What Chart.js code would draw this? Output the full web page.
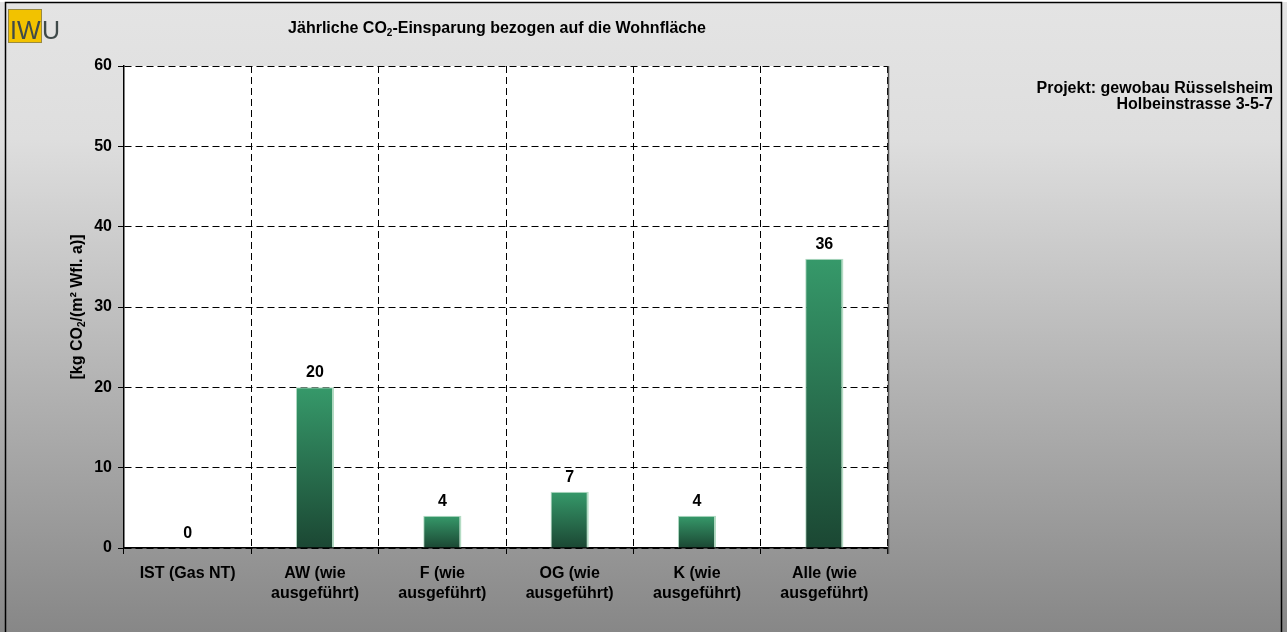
<!DOCTYPE html>
<html>
<head>
<meta charset="utf-8">
<script src="https://cdn.jsdelivr.net/npm/chart.js@4/dist/chart.umd.min.js"></script>
<style>
  html, body { margin: 0; padding: 0; background: #fff; }
  #wrap { width: 1287px; height: 632px; }
</style>
</head>
<body>
<div id="wrap"><canvas id="chart" width="1287" height="632"></canvas></div>
<script>
const categories = [
  ["IST (Gas NT)"],
  ["AW (wie", "ausgeführt)"],
  ["F (wie", "ausgeführt)"],
  ["OG (wie", "ausgeführt)"],
  ["K (wie", "ausgeführt)"],
  ["Alle (wie", "ausgeführt)"]
];
const einsparung = [0, 20, 4, 7, 4, 36];
const yTicks = [0, 10, 20, 30, 40, 50, 60];

const titleParts = ["Jährliche CO", "2", "-Einsparung bezogen auf die Wohnfläche"];
const yTitleParts = ["[kg CO", "2", "/(m² Wfl. a)]"];
const projektLines = ["Projekt: gewobau Rüsselsheim", "Holbeinstrasse 3-5-7"];

const FONT = "'Liberation Sans', Arial, sans-serif";

// draws text with a subscript middle part, centered at x
function drawSubText(ctx, parts, x, y, size) {
  const big = "bold " + size + "px " + FONT;
  const small = "bold " + Math.round(size * 0.65) + "px " + FONT;
  ctx.font = big;
  const w0 = ctx.measureText(parts[0]).width;
  const w2 = ctx.measureText(parts[2]).width;
  ctx.font = small;
  const w1 = ctx.measureText(parts[1]).width;
  let cx = x - (w0 + w1 + w2) / 2;
  ctx.textAlign = "left";
  ctx.textBaseline = "alphabetic";
  ctx.font = big;
  ctx.fillText(parts[0], cx, y);
  cx += w0;
  ctx.font = small;
  ctx.fillText(parts[1], cx, y + size * 0.2);
  cx += w1;
  ctx.font = big;
  ctx.fillText(parts[2], cx, y);
}

function barGradient(context) {
  const chart = context.chart;
  const y = chart.scales.y;
  if (!y || context.raw === undefined) return "#2a7a52";
  const top = y.getPixelForValue(context.raw);
  const base = y.getPixelForValue(0);
  if (!isFinite(top) || !isFinite(base) || top === base) return "#2a7a52";
  const g = chart.ctx.createLinearGradient(0, top, 0, base);
  g.addColorStop(0, "#36996a");
  g.addColorStop(1, "#1b4733");
  return g;
}

const backgroundPlugin = {
  id: "bg",
  beforeDraw(chart) {
    const ctx = chart.ctx;
    const h = chart.height;
    ctx.save();
    const g = ctx.createLinearGradient(0, 0, 0, h);
    g.addColorStop(0, "#e4e4e4");
    g.addColorStop(0.22, "#dedede");
    g.addColorStop(1, "#878787");
    ctx.fillStyle = g;
    ctx.fillRect(0, 0, chart.width, h);
    ctx.fillStyle = "#ffffff";
    ctx.fillRect(0, 0, chart.width, 2);
    ctx.strokeStyle = "#000";
    ctx.lineWidth = 1.5;
    ctx.strokeRect(5.5, 2.5, 1276, h + 10);

    // logo
    ctx.fillStyle = "#f2c200";
    ctx.fillRect(8, 9, 34, 34);
    ctx.strokeStyle = "#9a8a40";
    ctx.lineWidth = 1;
    ctx.strokeRect(8.5, 9.5, 33, 33);
    ctx.fillStyle = "#3f4a4a";
    ctx.textBaseline = "alphabetic";
    ctx.textAlign = "left";
    ctx.font = "25px " + FONT;
    ctx.fillText("I", 10, 39);
    ctx.fillText("W", 17, 39);
    ctx.fillText("U", 42, 39);

    // white plot background
    const a = chart.chartArea;
    ctx.fillStyle = "#ffffff";
    ctx.fillRect(a.left, a.top, a.right - a.left, a.bottom - a.top);
    ctx.restore();
  },
  afterDraw(chart) {
    const ctx = chart.ctx;
    const a = chart.chartArea;
    ctx.save();
    // right frame of plot
    ctx.strokeStyle = "#555";
    ctx.lineWidth = 1.5;
    ctx.beginPath();
    ctx.moveTo(a.right + 0.5, a.top);
    ctx.lineTo(a.right + 0.5, a.bottom + 6);
    ctx.stroke();

    ctx.fillStyle = "#000";
    // title
    drawSubText(ctx, titleParts, 497, 33, 16);

    // value labels
    const meta = chart.getDatasetMeta(0);
    ctx.font = "bold 16px " + FONT;
    ctx.textAlign = "center";
    ctx.textBaseline = "alphabetic";
    meta.data.forEach((bar, i) => {
      ctx.fillText(String(einsparung[i]), bar.x, bar.y - 10);
    });

    // y axis title
    ctx.save();
    ctx.translate(82, (a.top + a.bottom) / 2);
    ctx.rotate(-Math.PI / 2);
    drawSubText(ctx, yTitleParts, 0, 0, 16);
    ctx.restore();

    // project text
    ctx.font = "bold 16px " + FONT;
    ctx.textAlign = "right";
    ctx.fillText(projektLines[0], 1273, 93);
    ctx.fillText(projektLines[1], 1273, 109);
    ctx.restore();
  }
};

const config = {
  type: "bar",
  data: {
    labels: categories,
    datasets: [
      {
        data: einsparung,
        backgroundColor: barGradient,
        borderColor: "#b4dcc4",
        borderWidth: { right: 2, left: 1, top: 1, bottom: 0 },
        borderSkipped: false,
        categoryPercentage: 1,
        barPercentage: 0.3
      }
    ]
  },
  options: {
    responsive: false,
    animation: false,
    events: [],
    layout: { padding: { left: 5, right: 399, top: 66, bottom: 0 } },
    plugins: { legend: { display: false }, title: { display: false }, tooltip: { enabled: false } },
    scales: {
      x: {
        offset: true,
        afterFit: (s) => { s.height = 84; },
        grid: {
          offset: true,
          color: "#000",
          lineWidth: 1,
          tickBorderDash: [],
          tickColor: "#000",
          tickLength: 6,
          drawTicks: true
        },
        border: { display: true, color: "#000", width: 1.5, dash: [7, 4] },
        ticks: {
          color: "#000",
          font: { family: FONT, size: 16, weight: "bold", lineHeight: 1.25 },
          padding: 10,
          maxRotation: 0,
          autoSkip: false
        }
      },
      y: {
        min: 0,
        max: 60,
        afterFit: (s) => { s.width = 119; },
        afterBuildTicks: (s) => { s.ticks = yTicks.map((v) => ({ value: v })); },
        grid: {
          color: "#000",
          lineWidth: 1,
          tickBorderDash: [],
          tickColor: "#000",
          tickLength: 6
        },
        border: { display: true, color: "#000", width: 1.5, dash: [7, 4] },
        ticks: {
          color: "#000",
          font: { family: FONT, size: 16, weight: "bold" },
          padding: 6
        }
      }
    }
  },
  plugins: [backgroundPlugin]
};

const myChart = new Chart(document.getElementById("chart"), config);
</script>
</body>
</html>
